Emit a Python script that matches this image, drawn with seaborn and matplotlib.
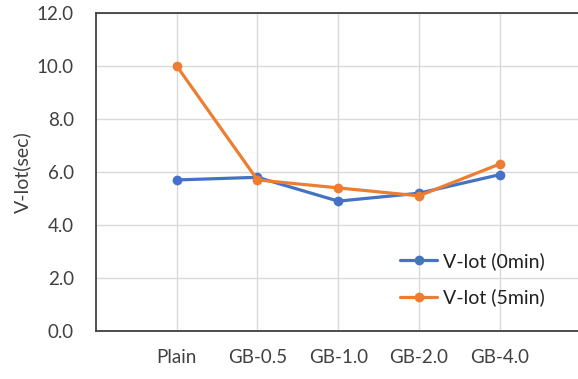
import matplotlib
matplotlib.use("Agg")
import matplotlib.pyplot as plt
import seaborn as sns
import pandas as pd

categories = ["Plain", "GB-0.5", "GB-1.0", "GB-2.0", "GB-4.0"]
v_lot_0min = [5.7, 5.8, 4.9, 5.2, 5.9]
v_lot_5min = [10.0, 5.7, 5.4, 5.1, 6.3]
series_names = ["V-lot (0min)", "V-lot (5min)"]
y_ticks = [0, 2, 4, 6, 8, 10, 12]

df = pd.DataFrame({
    "cat": categories * 2,
    "x": list(range(len(categories))) * 2,
    "val": v_lot_0min + v_lot_5min,
    "series": [series_names[0]] * 5 + [series_names[1]] * 5,
})

sns.set_style("white")
plt.rcParams["font.family"] = ["Lato", "DejaVu Sans"]

fig = plt.figure(figsize=(5.78, 3.79), dpi=100)
ax = fig.add_axes([96 / 578, 48 / 379, 1 - 96 / 578, 318 / 379])

palette = {series_names[0]: "#4472C4", series_names[1]: "#ED7D31"}
sns.lineplot(data=df, x="x", y="val", hue="series", palette=palette,
             marker="o", markersize=7, markeredgewidth=0, linewidth=2.3,
             ax=ax, zorder=3)

ax.set_xlim(-1, 4.97)
ax.set_ylim(0, 12)
ax.set_xticks(range(len(categories)))
ax.set_xticklabels(categories)
ax.set_yticks(y_ticks)
ax.set_yticklabels([f"{t:.1f}" for t in y_ticks])
ax.tick_params(axis="both", length=0, labelsize=13.5, colors="#404040")
ax.tick_params(axis="x", pad=13)
ax.tick_params(axis="y", pad=16)
ax.grid(True, color="#D9D9D9", linewidth=1)
ax.set_axisbelow(True)
ax.set_xlabel("")
ax.set_ylabel("V-lot(sec)", fontsize=14, color="#404040", labelpad=4)

for s in ["left", "top", "bottom"]:
    ax.spines[s].set_visible(True)
    ax.spines[s].set_color("#404040")
    ax.spines[s].set_linewidth(1.3)
ax.spines["right"].set_visible(False)

leg = ax.legend(loc="center left", bbox_to_anchor=(0.595, 0.163), frameon=False,
                fontsize=14, labelspacing=0.95, handlelength=1.9,
                handletextpad=0.3)
for t in leg.get_texts():
    t.set_color("#202020")

fig.savefig("out.png", dpi=100)
